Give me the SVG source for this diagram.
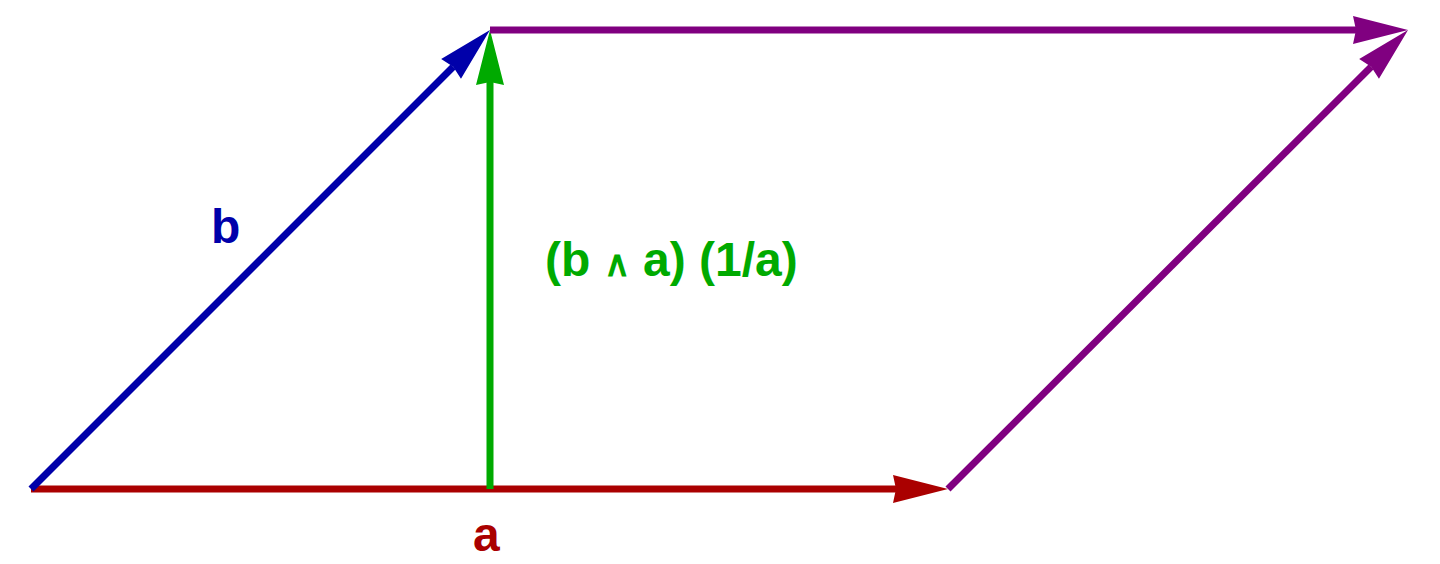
<svg xmlns="http://www.w3.org/2000/svg" width="1440" height="564" viewBox="0 0 1440 564">
<style>
.l{fill:none;stroke-width:7}
.t{font-family:"Liberation Sans",Arial,sans-serif;font-weight:bold}
</style>
<defs>
<marker id="mr" markerUnits="userSpaceOnUse" markerWidth="80" markerHeight="40" viewBox="-10 -20 80 40" refX="0" refY="0" orient="auto" overflow="visible"><path d="M52,0 L-3,-14 L0,0 L-3,14 Z" fill="#aa0000"/></marker>
<marker id="mb" markerUnits="userSpaceOnUse" markerWidth="80" markerHeight="40" viewBox="-10 -20 80 40" refX="0" refY="0" orient="auto" overflow="visible"><path d="M52,0 L-3,-14 L0,0 L-3,14 Z" fill="#0000aa"/></marker>
<marker id="mg" markerUnits="userSpaceOnUse" markerWidth="80" markerHeight="40" viewBox="-10 -20 80 40" refX="0" refY="0" orient="auto" overflow="visible"><path d="M52,0 L-3,-14 L0,0 L-3,14 Z" fill="#00aa00"/></marker>
<marker id="mp" markerUnits="userSpaceOnUse" markerWidth="80" markerHeight="40" viewBox="-10 -20 80 40" refX="0" refY="0" orient="auto" overflow="visible"><path d="M52,0 L-3,-14 L0,0 L-3,14 Z" fill="#800080"/></marker>
</defs>
<g id="connectors">
<line id="a" class="l" x1="31" y1="489" x2="896" y2="489" stroke="#aa0000" marker-end="url(#mr)"/>
<line id="b" class="l" x1="31" y1="489" x2="453.2" y2="66.8" stroke="#0000aa" marker-end="url(#mb)"/>
<line id="proj" class="l" x1="490" y1="489" x2="490" y2="82" stroke="#00aa00" marker-end="url(#mg)"/>
<line id="top" class="l" x1="490" y1="30" x2="1356" y2="30" stroke="#800080" marker-end="url(#mp)"/>
<line id="right" class="l" x1="948" y1="489" x2="1371.2" y2="66.8" stroke="#800080" marker-end="url(#mp)"/>
</g>
<g id="label-b"><text class="t" x="211" y="243" font-size="48" fill="#0000aa">b</text></g>
<g id="label-a"><text class="t" x="473" y="551" font-size="48" fill="#aa0000">a</text></g>
<g id="label-proj"><text class="t" x="545" y="276" font-size="48" fill="#00aa00">(b <tspan font-size="36">∧</tspan> a) (1/a)</text></g>
</svg>
